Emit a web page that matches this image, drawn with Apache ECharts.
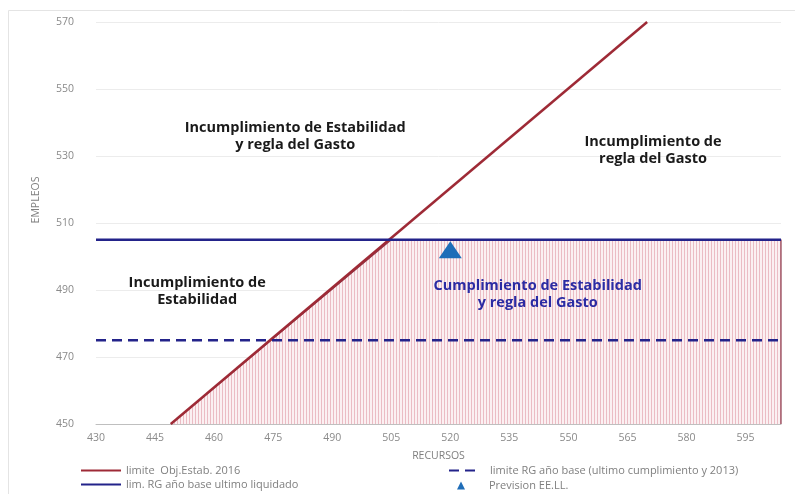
<!DOCTYPE html>
<html>
<head>
<meta charset="utf-8">
<script src="https://cdn.jsdelivr.net/npm/echarts@6/dist/echarts.min.js"></script>
<style>html,body{margin:0;padding:0;background:#fff;}#c{width:795px;height:494px;}</style>
</head>
<body>
<div id="c"></div>
<script>
// ---- data ----
const xRange = [430, 604];
const yRange = [450, 570];
const xTickStep = 15;
const yTickStep = 20;
const limiteObjEstab = [[449, 450], [570, 570]];          // y = x
const limRGLiquidado = [[430, 505], [604, 505]];
const limiteRGBase = [[430, 475], [604, 475]];
const previsionEELL = [[520, 502]];
const zonaCumplimiento = [[449, 450], [505, 505], [604, 505], [604, 450]];
const annotationNames = [
  'Incumplimiento de Estabilidad\ny regla del Gasto',
  'Incumplimiento de\nregla del Gasto',
  'Incumplimiento de\nEstabilidad',
  'Cumplimiento de Estabilidad\ny regla del Gasto'
];
const annotationPos = [[480.6, 535.8], [571.5, 531.8], [455.7, 489.7], [542.2, 488.8]];
const annotationColors = ['#1a1a1a', '#1a1a1a', '#1a1a1a', '#2b2ba3'];
const seriesNames = ['limite  Obj.Estab. 2016', 'lim. RG año base ultimo liquidado',
  'limite RG año base (ultimo cumplimiento y 2013)', 'Prevision EE.LL.'];

// hatch pattern
const pc = document.createElement('canvas');
pc.width = 3; pc.height = 4;
const pctx = pc.getContext('2d');
pctx.fillStyle = '#fbf0f2'; pctx.fillRect(0, 0, 3, 4);
pctx.fillStyle = '#ebbcc4'; pctx.fillRect(0, 0, 1, 4);

const FONT = '"Open Sans", sans-serif';
const legendText = {color: '#7f7f7f', fontSize: 11, fontFamily: FONT};
function oneLegend(name, left, top, w, h, extra) {
  return Object.assign({
    left: left, top: top, orient: 'vertical', itemWidth: w, itemHeight: h, padding: 0,
    textStyle: legendText, selectedMode: false, data: [name]
  }, extra || {});
}
const chart = echarts.init(document.getElementById('c'), null, {renderer: 'canvas'});
const option = {
  backgroundColor: '#ffffff',
  animation: false,
  grid: {left: 96, right: 14, top: 22, bottom: 70},
  xAxis: {
    type: 'value', min: xRange[0], max: xRange[1], interval: xTickStep,
    name: 'RECURSOS', nameLocation: 'middle', nameGap: 27,
    nameTextStyle: {color: '#7f7f7f', fontSize: 10.5, fontFamily: FONT},
    axisLine: {show: true, lineStyle: {color: '#bfbfbf', width: 1}},
    axisTick: {show: false},
    splitLine: {show: false},
    axisLabel: {color: '#8a8a8a', fontSize: 10.5, fontFamily: FONT, margin: 9, showMaxLabel: false}
  },
  yAxis: {
    type: 'value', min: yRange[0], max: yRange[1], interval: yTickStep,
    axisLine: {show: false}, axisTick: {show: false},
    splitLine: {show: true, lineStyle: {color: '#ececec', width: 1}},
    axisLabel: {color: '#8a8a8a', fontSize: 10.5, fontFamily: FONT, margin: 22}
  },
  graphic: [
    {type: 'rect', shape: {x: 8.5, y: 10.5, width: 800, height: 500}, style: {fill: 'none', stroke: '#e4e4e4', lineWidth: 1}, silent: true, z: -10},
    {type: 'text', x: 36, y: 200, rotation: Math.PI / 2, style: {text: 'EMPLEOS', fill: '#7f7f7f', font: '10.5px ' + FONT, align: 'center', verticalAlign: 'middle'}}
  ],
  legend: [
    oneLegend({name: seriesNames[0], itemStyle: {opacity: 0}}, 80, 465, 40, 10),
    oneLegend({name: seriesNames[1], itemStyle: {opacity: 0}}, 80, 479, 40, 10),
    oneLegend({name: seriesNames[2], itemStyle: {opacity: 0}}, 448, 465, 26, 10,
      {textStyle: Object.assign({}, legendText, {padding: [0, 0, 0, 10]})}),
    oneLegend({name: seriesNames[3], icon: 'triangle'}, 457, 480, 8, 8,
      {textStyle: Object.assign({}, legendText, {padding: [0, 0, 0, 19]})})
  ],
  series: [
    {type: 'line', name: 'zona', data: zonaCumplimiento, symbol: 'none', silent: true,
     lineStyle: {color: '#8c3a4c', width: 1.2},
     areaStyle: {color: {image: pc, repeat: 'repeat'}, opacity: 1}, z: 1},
    {type: 'line', name: seriesNames[0], data: limiteObjEstab, symbol: 'none',
     lineStyle: {color: '#9e2a36', width: 2.5}, itemStyle: {color: '#9e2a36'}, z: 3},
    {type: 'line', name: seriesNames[1], data: limRGLiquidado, symbol: 'none',
     lineStyle: {color: '#23238a', width: 2.5}, itemStyle: {color: '#23238a'}, z: 4},
    {type: 'line', name: seriesNames[2], data: limiteRGBase, symbol: 'none',
     lineStyle: {color: '#23238a', width: 2.5, type: [10, 6]}, itemStyle: {color: '#23238a'}, z: 4},
    {type: 'scatter', name: seriesNames[3], data: previsionEELL, symbol: 'triangle', symbolSize: [23, 17],
     itemStyle: {color: '#1f6db8', opacity: 1}, z: 5},
    {type: 'scatter', name: 'annotations', symbol: 'circle', symbolSize: 1, silent: true, z: 6,
     itemStyle: {color: 'rgba(0,0,0,0)', opacity: 1},
     data: annotationPos.map((p, i) => ({
       value: p,
       label: {show: true, position: 'inside', formatter: annotationNames[i], color: annotationColors[i],
               fontSize: 14.5, fontWeight: 'bold', fontFamily: FONT, lineHeight: 17, align: 'center'}
     }))}
  ]
};
chart.setOption(option);
</script>
</body>
</html>
